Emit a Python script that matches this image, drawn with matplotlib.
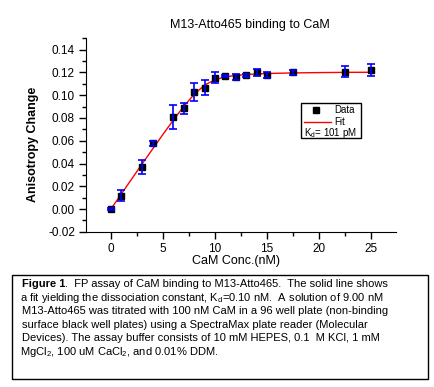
import matplotlib
matplotlib.use("agg")
import matplotlib.pyplot as plt
from matplotlib.ticker import MultipleLocator, FormatStrFormatter
from matplotlib.patches import Rectangle
from matplotlib.lines import Line2D

plt.rcParams['font.family'] = ['Liberation Sans', 'DejaVu Sans']
plt.rcParams['axes.unicode_minus'] = False
plt.rcParams['mathtext.fontset'] = 'custom'
plt.rcParams['mathtext.rm'] = 'Liberation Sans'
plt.rcParams['mathtext.it'] = 'Liberation Sans'

# measured points (CaM nM, anisotropy change, error)
cam_conc = [0, 1, 3, 4, 6, 7, 8, 9, 10, 11, 12, 13, 14, 15, 17.5, 22.5, 25]
aniso = [0.000, 0.0117, 0.0372, 0.0578, 0.0811, 0.0885, 0.1031, 0.1066, 0.1154,
         0.1170, 0.1160, 0.1175, 0.1202, 0.1178, 0.1200, 0.1207, 0.1222]
aniso_err = [0.0008, 0.005, 0.006, 0.002, 0.0105, 0.0047, 0.0078, 0.0066, 0.0047,
             0.001, 0.0023, 0.0015, 0.0032, 0.0025, 0.002, 0.0051, 0.0053]

# fit curve
fit_x = [0, 1, 2, 3, 4, 5, 6, 7, 8, 9, 10, 11, 12, 13, 14, 15, 17.5, 20, 22.5, 25]
fit_y = [0.0, 0.0133, 0.0265, 0.0397, 0.0527, 0.0656, 0.0782, 0.0902, 0.1008,
         0.1089, 0.1137, 0.1161, 0.1174, 0.1182, 0.1187, 0.1191, 0.1196, 0.1199,
         0.1201, 0.1202]

caption_lines = [
    ".  FP assay of CaM binding to M13-Atto465.  The solid line shows",
    r"a fit yielding the dissociation constant, K$_\mathrm{d}$=0.10 nM.  A solution of 9.00 nM",
    "M13-Atto465 was titrated with 100 nM CaM in a 96 well plate (non-binding",
    "surface black well plates) using a SpectraMax plate reader (Molecular",
    "Devices). The assay buffer consists of 10 mM HEPES, 0.1  M KCl, 1 mM",
    r"MgCl$_\mathrm{2}$, 100 uM CaCl$_\mathrm{2}$, and 0.01% DDM.",
]

W, H = 435, 387
fig = plt.figure(figsize=(W / 100, H / 100), dpi=100)
ax = fig.add_axes([86 / W, 1 - 232 / H, 310 / W, 194 / H])

ax.plot(fit_x, fit_y, color='red', lw=1, zorder=2)
ax.plot(cam_conc, aniso, 's', color='black', ms=4.5, zorder=3)
ax.errorbar(cam_conc, aniso, yerr=aniso_err, fmt='none', ecolor='#0000ff',
            elinewidth=1.2, capsize=3, capthick=1.2, zorder=4)

ax.set_xlim(-2.4, 27.4)
ax.set_ylim(-0.0202, 0.1503)
ax.xaxis.set_major_locator(MultipleLocator(5))
ax.xaxis.set_minor_locator(MultipleLocator(2.5))
ax.yaxis.set_major_locator(MultipleLocator(0.02))
ax.yaxis.set_minor_locator(MultipleLocator(0.01))
ax.yaxis.set_major_formatter(FormatStrFormatter('%.2f'))
ax.tick_params(which='major', direction='out', length=5, width=1, labelsize=8.5, pad=3)
ax.tick_params(which='minor', direction='out', length=3, width=1)
ax.spines['top'].set_visible(False)
ax.spines['right'].set_visible(False)

ax.set_xlabel("CaM Conc.(nM)", fontsize=9, va='center')
ax.xaxis.set_label_coords((236 - 86) / 310, (232 - 261) / 194)
ax.set_ylabel("Anisotropy Change", fontsize=9, fontweight='bold', va='center')
ax.yaxis.set_label_coords((33 - 86) / 310, (232 - 144) / 194)

fig.text(250 / W, 1 - 25 / H, "M13-Atto465 binding to CaM", fontsize=9,
         ha='center', va='center')

# legend box, drawn by hand like the Origin one
box = Rectangle((0.694, 0.485), 0.193, 0.18, transform=ax.transAxes,
                fill=False, edgecolor='black', lw=1, clip_on=False)
ax.add_patch(box)
ax.add_line(Line2D([0.742], [0.628], marker='s', color='black', ms=4.5,
                   transform=ax.transAxes))
ax.add_line(Line2D([0.703, 0.790], [0.566, 0.566], color='red', lw=1,
                   transform=ax.transAxes))
ax.text(0.80, 0.628, "Data", transform=ax.transAxes, fontsize=7, va='center')
ax.text(0.80, 0.566, "Fit", transform=ax.transAxes, fontsize=7, va='center')
ax.text(0.703, 0.512, r"K$_\mathrm{d}$= 101 pM", transform=ax.transAxes,
        fontsize=7, va='center')

# caption box
cap = Rectangle((12.5 / W, 1 - 379 / H), 416 / W, 104 / H, transform=fig.transFigure,
                fill=False, edgecolor='black', lw=1)
fig.patches.append(cap)
x0 = 22
y0 = 284
dy = 13.6
t = fig.text(x0 / W, 1 - y0 / H, "Figure 1", fontsize=8, fontweight='bold', va='center')
r = fig.canvas.get_renderer()
bb = t.get_window_extent(r)
fig.text(bb.x1 / W, 1 - y0 / H, caption_lines[0], fontsize=8, va='center')
for i, line in enumerate(caption_lines[1:], start=1):
    # mathtext lines get a little leading pad, pull them back
    xs = x0 - 1.5 if '$' in line else x0
    fig.text(xs / W, 1 - (y0 + i * dy) / H, line, fontsize=8, va='center')

fig.savefig("out.png", dpi=100)
